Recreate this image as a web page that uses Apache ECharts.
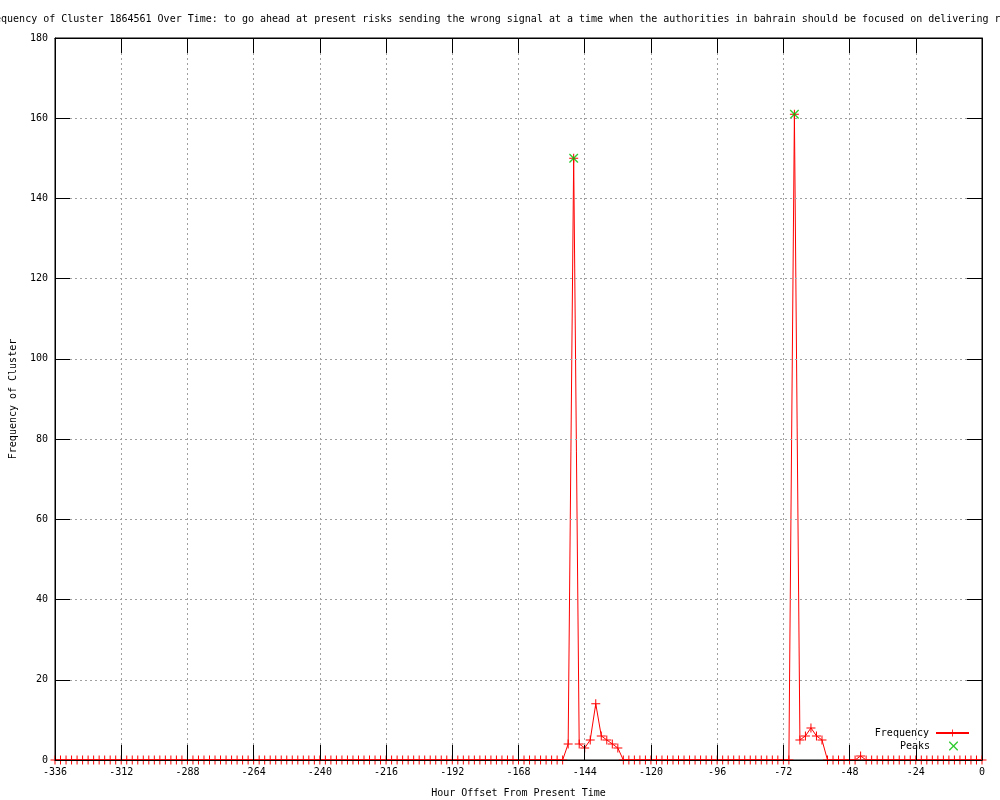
<!DOCTYPE html>
<html>
<head>
<meta charset="utf-8">
<script src="https://cdn.jsdelivr.net/npm/echarts@6/dist/echarts.min.js"></script>
<style>
html,body{margin:0;padding:0;background:#fff;}
#chart{width:1000px;height:800px;}
</style>
</head>
<body>
<div id="chart"></div>
<script>
// Hour offsets (every 2 hours)
const hours = [
-336,-334,-332,-330,-328,-326,-324,-322,-320,-318,
-316,-314,-312,-310,-308,-306,-304,-302,-300,-298,
-296,-294,-292,-290,-288,-286,-284,-282,-280,-278,
-276,-274,-272,-270,-268,-266,-264,-262,-260,-258,
-256,-254,-252,-250,-248,-246,-244,-242,-240,-238,
-236,-234,-232,-230,-228,-226,-224,-222,-220,-218,
-216,-214,-212,-210,-208,-206,-204,-202,-200,-198,
-196,-194,-192,-190,-188,-186,-184,-182,-180,-178,
-176,-174,-172,-170,-168,-166,-164,-162,-160,-158,
-156,-154,-152,-150,-148,-146,-144,-142,-140,-138,
-136,-134,-132,-130,-128,-126,-124,-122,-120,-118,
-116,-114,-112,-110,-108,-106,-104,-102,-100,-98,
-96,-94,-92,-90,-88,-86,-84,-82,-80,-78,
-76,-74,-72,-70,-68,-66,-64,-62,-60,-58,
-56,-54,-52,-50,-48,-46,-44,-42,-40,-38,
-36,-34,-32,-30,-28,-26,-24,-22,-20,-18,
-16,-14,-12,-10,-8,-6,-4,-2,0
];
// Frequency values, one per hour above
const frequency = [
0,0,0,0,0,0,0,0,0,0,
0,0,0,0,0,0,0,0,0,0,
0,0,0,0,0,0,0,0,0,0,
0,0,0,0,0,0,0,0,0,0,
0,0,0,0,0,0,0,0,0,0,
0,0,0,0,0,0,0,0,0,0,
0,0,0,0,0,0,0,0,0,0,
0,0,0,0,0,0,0,0,0,0,
0,0,0,0,0,0,0,0,0,0,
0,0,0,4,150,4,3,5,14,6,
5,4,3,0,0,0,0,0,0,0,
0,0,0,0,0,0,0,0,0,0,
0,0,0,0,0,0,0,0,0,0,
0,0,0,0,161,5,6,8,6,5,
0,0,0,0,0,0,1,0,0,0,
0,0,0,0,0,0,0,0,0,0,
0,0,0,0,0,0,0,0,0
];
const peakHours = [-148, -68];
const peakValues = [150, 161];

const titleText = 'Frequency of Cluster 1864561 Over Time: to go ahead at present risks sending the wrong signal at a time when the authorities in bahrain should be focused on delivering reform';
const xName = 'Hour Offset From Present Time';
const yName = 'Frequency of Cluster';

const FONT = 'DejaVu Sans Mono';
const plusPath = 'path://M4,0h1v4h4v1h-4v4h-1v-4h-4v-1h4z';
const crossPath = 'path://M0,0L1,0L4.5,3.5L8,0L9,0L9,1L5.5,4.5L9,8L9,9L8,9L4.5,5.5L1,9L0,9L0,8L3.5,4.5L0,1Z';

const freqData = hours.map((h, i) => [h, frequency[i]]);
const peakData = peakHours.map((h, i) => [h, peakValues[i]]);

const chart = echarts.init(document.getElementById('chart'), null, {renderer: 'canvas'});
const gridLine = {show: true, lineStyle: {color: '#a0a0a0', type: [2, 3], width: 1}};
const TICK = 15;
chart.setOption({
  backgroundColor: '#ffffff',
  animation: false,
  title: {
    text: titleText,
    left: -17,
    top: 14,
    padding: 0,
    textStyle: {fontFamily: FONT, fontSize: 10, fontWeight: 'normal', color: '#000'}
  },
  grid: {left: 55, right: 18, top: 38, bottom: 40, show: true, borderColor: '#000', borderWidth: 1,
    backgroundColor: 'transparent', containLabel: false, outerBoundsMode: 'none'},
  legend: [
    {
      data: ['Frequency'], orient: 'vertical', right: 30, top: 728, align: 'right',
      padding: 0, itemWidth: 33, itemHeight: 9, itemGap: 4,
      textStyle: {fontFamily: FONT, fontSize: 10, color: '#000', padding: [0, 2, 0, 0]}
    },
    {
      data: ['Peaks'], orient: 'vertical', right: 42, top: 741, align: 'right',
      padding: 0, itemWidth: 9, itemHeight: 9, itemGap: 4,
      textStyle: {fontFamily: FONT, fontSize: 10, color: '#000', padding: [0, 14, 0, 0]}
    }
  ],
  xAxis: [
    {
      type: 'value', min: -336, max: 0, interval: 24, position: 'bottom', z: 10,
      name: xName, nameLocation: 'middle', nameGap: 28,
      nameTextStyle: {fontFamily: FONT, fontSize: 10, color: '#000'},
      axisLine: {show: true, onZero: false, lineStyle: {color: '#000', width: 1}},
      axisTick: {show: true, inside: true, length: TICK, lineStyle: {color: '#000'}},
      axisLabel: {fontFamily: FONT, fontSize: 10, color: '#000', margin: 7},
      splitLine: gridLine
    },
    {
      type: 'value', min: -336, max: 0, interval: 24, position: 'top', z: 10,
      axisLine: {show: true, onZero: false, lineStyle: {color: '#000', width: 1}},
      axisTick: {show: true, inside: true, length: TICK, lineStyle: {color: '#000'}},
      axisLabel: {show: false},
      splitLine: {show: false}
    }
  ],
  yAxis: [
    {
      type: 'value', min: 0, max: 180, interval: 20, position: 'left', z: 10,
      name: yName, nameLocation: 'middle', nameGap: 37, nameRotate: 90,
      nameTextStyle: {fontFamily: FONT, fontSize: 10, color: '#000'},
      axisLine: {show: true, onZero: false, lineStyle: {color: '#000', width: 1}},
      axisTick: {show: true, inside: true, length: TICK, lineStyle: {color: '#000'}},
      axisLabel: {fontFamily: FONT, fontSize: 10, color: '#000', margin: 7},
      splitLine: gridLine
    },
    {
      type: 'value', min: 0, max: 180, interval: 20, position: 'right', z: 10,
      axisLine: {show: true, onZero: false, lineStyle: {color: '#000', width: 1}},
      axisTick: {show: true, inside: true, length: TICK, lineStyle: {color: '#000'}},
      axisLabel: {show: false},
      splitLine: {show: false}
    }
  ],
  series: [
    {
      name: 'Frequency', type: 'line', xAxisIndex: 0, yAxisIndex: 0,
      data: freqData,
      symbol: plusPath, symbolSize: 9, showAllSymbol: true,
      lineStyle: {color: '#ff0000', width: 1},
      itemStyle: {color: '#ff0000'},
      clip: false, z: 3
    },
    {
      name: 'Peaks', type: 'scatter', xAxisIndex: 0, yAxisIndex: 0,
      data: peakData,
      symbol: crossPath, symbolSize: 9,
      itemStyle: {color: '#00c000'},
      z: 4
    }
  ]
});
</script>
</body>
</html>
